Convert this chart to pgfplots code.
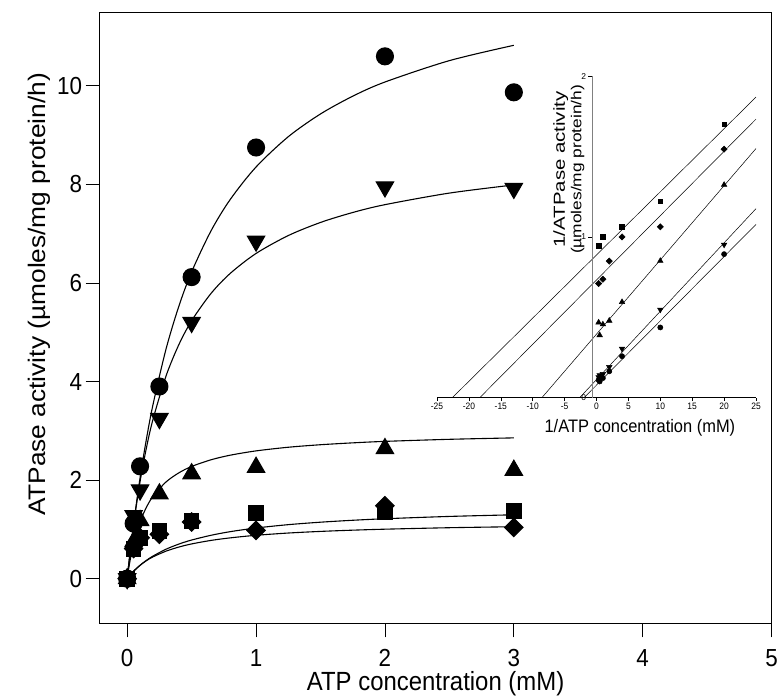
\documentclass[border=0pt]{standalone}
\usepackage{pgfplots}
\pgfplotsset{compat=1.18}
\usepackage{fontspec}
\setmainfont{Liberation Sans}
\begin{document}
\begin{tikzpicture}
\begin{axis}[name=main,
  scale only axis, width=672bp, height=611.5bp,
  xmin=-0.214, xmax=5, ymin=-0.91, ymax=11.5,
  xtick={0,1,2,3,4,5}, ytick={0,2,4,6,8,10},
  tick pos=left, tick align=outside, major tick length=14bp,
  axis line style={line width=0.9bp},
  tick style={line width=0.9bp, black},
  /pgf/number format/assume math mode=true,
  ticklabel style={font=\fontsize{22.5}{27}\selectfont, yscale=1.1},
  xticklabel style={yshift=-7bp},
  xlabel={ATP concentration (mM)},
  ylabel={\scalebox{1.1}[1]{ATPase activity (µmoles/mg protein/h)}},
  xlabel style={font=\fontsize{24}{28}\selectfont, yscale=1.1, yshift=2bp},
  ylabel style={font=\fontsize{24}{28}\selectfont, at={(ticklabel cs:0.538)}},
  clip=false,
  every axis plot/.append style={black, line width=1.1bp},
]
% fitted curves
\addplot[smooth] coordinates {(0,0) (0.02,0.470) (0.05,1.114) (0.1,2.048) (0.15,2.843) (0.2,3.528) (0.3,4.646) (0.4,5.522) (0.5,6.225) (0.65,7.056) (0.8,7.697) (1.0,8.355) (1.25,8.969) (1.5,9.431) (1.75,9.791) (2.0,10.079) (2.5,10.513) (3.0,10.824)};
\addplot[smooth] coordinates {(0,0) (0.02,0.479) (0.05,1.108) (0.1,1.971) (0.15,2.663) (0.2,3.230) (0.3,4.103) (0.4,4.744) (0.5,5.234) (0.65,5.787) (0.8,6.196) (1.0,6.600) (1.25,6.963) (1.5,7.229) (1.75,7.431) (2.0,7.590) (2.5,7.825) (3.0,7.990)};
\addplot[smooth] coordinates {(0,0) (0.02,0.333) (0.05,0.713) (0.1,1.153) (0.15,1.452) (0.2,1.668) (0.3,1.959) (0.4,2.146) (0.5,2.277) (0.65,2.412) (0.8,2.506) (1.0,2.593) (1.25,2.667) (1.5,2.718) (1.75,2.756) (2.0,2.786) (2.5,2.828) (3.0,2.857)};
\addplot[smooth] coordinates {(0,0) (0.02,0.063) (0.05,0.149) (0.1,0.271) (0.15,0.373) (0.2,0.458) (0.3,0.596) (0.4,0.701) (0.5,0.784) (0.65,0.880) (0.8,0.954) (1.0,1.028) (1.25,1.096) (1.5,1.146) (1.75,1.185) (2.0,1.216) (2.5,1.263) (3.0,1.296)};
\addplot[smooth] coordinates {(0,0) (0.02,0.067) (0.05,0.154) (0.1,0.272) (0.15,0.366) (0.2,0.442) (0.3,0.557) (0.4,0.641) (0.5,0.705) (0.65,0.776) (0.8,0.828) (1.0,0.880) (1.25,0.926) (1.5,0.959) (1.75,0.984) (2.0,1.004) (2.5,1.034) (3.0,1.054)};
% data points
\addplot[only marks, mark=triangle*, mark size=10bp] coordinates {(0,0) (0.05,0.75) (0.1,1.18) (0.25,1.72) (0.5,2.13) (1,2.26) (2,2.64) (3,2.20)};
\addplot[only marks, mark=square*, mark size=7.3bp] coordinates {(0,0) (0.05,0.6) (0.1,0.82) (0.25,0.97) (0.5,1.17) (1,1.33) (2,1.34) (3,1.38)};
\addplot[only marks, mark=square*, mark size=6.5bp, mark options={rotate=45}] coordinates {(0,0) (0.05,0.61) (0.1,0.83) (0.25,0.90) (0.5,1.15) (1,0.98) (2,1.48) (3,1.04)};
\addplot[only marks, mark=triangle*, mark size=10bp, mark options={rotate=180}] coordinates {(0,0) (0.05,1.28) (0.1,1.80) (0.25,3.25) (0.5,5.20) (1,6.85) (2,7.95) (3,7.92)};
\addplot[only marks, mark=*, mark size=8.5bp] coordinates {(0,0) (0.05,1.12) (0.1,2.28) (0.25,3.90) (0.5,6.12) (1,8.75) (2,10.60) (3,9.87)};
\end{axis}
\coordinate (insetSW) at ([shift={(337.4bp,225.8bp)}]main.south west);

\begin{axis}[name=inset,
  at={(insetSW)}, anchor=south west,
  scale only axis, width=319bp, height=321.5bp,
  xmin=-25, xmax=25, ymin=0, ymax=2,
  axis x line*=bottom, axis y line=none,
  xtick={-25,-20,...,25}, ytick=\empty,
  tick align=outside, major tick length=3.5bp,
  x axis line style={line width=0.6bp},
  tick style={line width=0.6bp, black},
  /pgf/number format/assume math mode=true,
  xticklabel style={font=\fontsize{8.5}{10}\selectfont, yscale=1.1, inner sep=1.5bp},
  clip=false,
  every axis plot/.append style={black, line width=0.5bp},
]
\addplot[mark=none] coordinates {(-22.6,0) (25,1.870)};
\addplot[mark=none] coordinates {(-18.3,0) (25,1.733)};
\addplot[mark=none] coordinates {(-8.56,0) (25,1.550)};
\addplot[mark=none] coordinates {(-2.64,0) (25,1.176)};
\addplot[mark=none] coordinates {(-1.96,0) (25,1.078)};
\addplot[only marks, mark=square*, mark size=2.3bp] coordinates {(0.33,0.945) (1,1.0) (4,1.063) (10,1.223) (20,1.70)};
\addplot[only marks, mark=square*, mark size=2.2bp, mark options={rotate=45}] coordinates {(0.33,0.71) (1,0.737) (2,0.85) (4,1.0) (10,1.063) (20,1.546)};
\addplot[only marks, mark=triangle*, mark size=3.2bp] coordinates {(0.33,0.468) (0.5,0.389) (1,0.456) (2,0.479) (4,0.595) (10,0.851) (20,1.324)};
\addplot[only marks, mark=triangle*, mark size=3.2bp, mark options={rotate=180}] coordinates {(0.33,0.128) (0.5,0.14) (1,0.147) (2,0.191) (4,0.305) (10,0.548) (20,0.952)};
\addplot[only marks, mark=*, mark size=2.6bp] coordinates {(0.33,0.11) (0.5,0.101) (1,0.122) (2,0.164) (4,0.258) (10,0.437) (20,0.893)};
% inset y axis
\draw[gray, line width=0.8bp] (axis cs:-0.7,0) -- (axis cs:-0.7,2);
\draw[line width=0.6bp] (axis cs:-0.7,0) -- (axis cs:-1.35,0);
\draw[line width=0.6bp] (axis cs:-0.7,1) -- (axis cs:-1.35,1);
\draw[line width=0.6bp] (axis cs:-0.7,2) -- (axis cs:-1.35,2);
\node[anchor=east, inner sep=1.5bp, font=\fontsize{8.5}{10}\selectfont] at (axis cs:-1.35,0) {0};
\node[anchor=east, inner sep=1.5bp, font=\fontsize{8.5}{10}\selectfont] at (axis cs:-1.35,1) {1};
\node[anchor=east, inner sep=1.5bp, font=\fontsize{8.5}{10}\selectfont] at (axis cs:-1.35,2) {2};
\node[rotate=90, inner sep=0pt, font=\fontsize{16}{18}\selectfont] at (axis cs:-5.6,1.42)
  {\scalebox{1.28}[1]{1/ATPase activity}};
\node[rotate=90, inner sep=0pt, font=\fontsize{14.5}{17}\selectfont] at (axis cs:-2.95,1.42)
  {\scalebox{1.2}[1]{(µmoles/mg protein/h)}};
\node[font=\fontsize{16.5}{20}\selectfont, inner sep=0pt] at (axis cs:6.8,-0.19)
  {\scalebox{1}[1.1]{1/ATP concentration (mM)}};
\end{axis}

\pgfresetboundingbox
\path[use as bounding box] ([shift={(-99.6bp,-73.5bp)}]main.south west) rectangle ([shift={(677.4bp,623.5bp)}]main.south west);
\end{tikzpicture}
\end{document}
